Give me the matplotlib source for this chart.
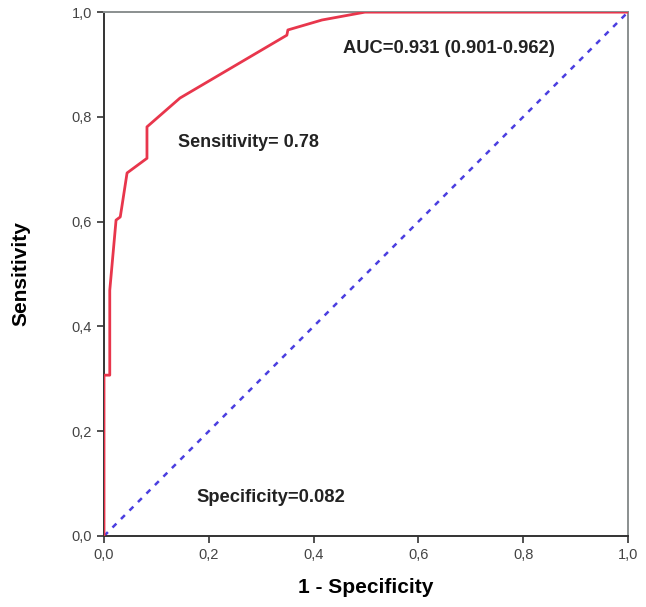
import matplotlib.pyplot as plt
from matplotlib.ticker import FuncFormatter

plt.rcParams['font.family'] = ['Liberation Sans', 'DejaVu Sans']

# ROC curve points (1 - specificity, sensitivity)
fpr = [0.0, 0.0, 0.011, 0.011, 0.023, 0.031, 0.034, 0.044, 0.082, 0.082,
       0.145, 0.349, 0.351, 0.416, 0.498, 1.0]
tpr = [0.0, 0.307, 0.307, 0.469, 0.603, 0.609, 0.628, 0.693, 0.721, 0.781,
       0.836, 0.956, 0.966, 0.985, 1.0, 1.0]

ref_line = [0.0, 1.0]
ticks = [0.0, 0.2, 0.4, 0.6, 0.8, 1.0]

fig = plt.figure(figsize=(6.46, 6.07), dpi=100)
ax = fig.add_axes([0.161, 0.117, 0.811, 0.863])

ax.plot(ref_line, ref_line, color='#4b3fe0', linestyle=(0, (2.2, 2.6)), linewidth=1.8)
ax.plot(fpr, tpr, color='#e8364c', linewidth=2.0, zorder=3)

ax.set_xlim(0, 1)
ax.set_ylim(0, 1)
ax.set_xticks(ticks)
ax.set_yticks(ticks)
fmt = FuncFormatter(lambda v, p: f'{v:.1f}'.replace('.', ','))
ax.xaxis.set_major_formatter(fmt)
ax.yaxis.set_major_formatter(fmt)
ax.tick_params(direction='out', length=5, width=1.2, labelsize=10.5,
               colors='#333333', labelcolor='#444444')

for s in ['left', 'bottom']:
    ax.spines[s].set_color('#333333')
    ax.spines[s].set_linewidth(1.4)
for s in ['top', 'right']:
    ax.spines[s].set_color('#8a8f8f')
    ax.spines[s].set_linewidth(1.4)

ax.set_xlabel('1 - Specificity', fontsize=15, fontweight='bold', labelpad=12)
ax.set_ylabel('Sensitivity', fontsize=15, fontweight='bold', labelpad=30)

ax.text(0.141, 0.752, 'Sensitivity= 0.78', fontsize=13, fontweight='bold',
        va='center', color='#222222')
ax.text(0.456, 0.931, 'AUC=0.931 (0.901-0.962)', fontsize=13.2, fontweight='bold',
        va='center', color='#222222')
ax.text(0.177, 0.073, 'Specificity=0.082', fontsize=13.2, fontweight='bold',
        va='center', color='#222222')

fig.savefig('out.png', dpi=100)
